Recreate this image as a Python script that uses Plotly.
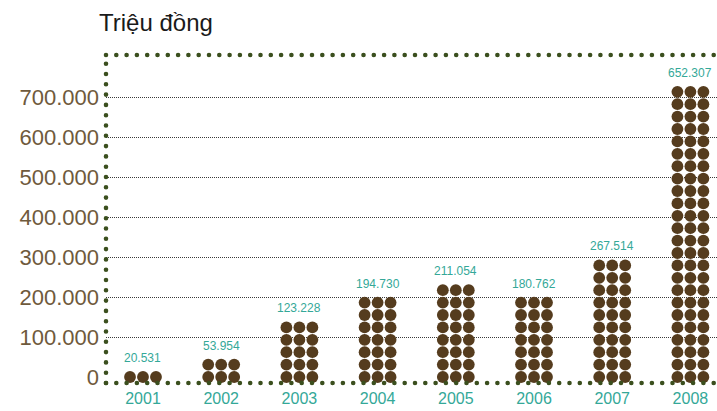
import plotly.graph_objects as go

years = ["2001", "2002", "2003", "2004", "2005", "2006", "2007", "2008"]
values = [20531, 53954, 123228, 194730, 211054, 180762, 267514, 652307]
value_labels = ["20.531", "53.954", "123.228", "194.730", "211.054", "180.762", "267.514", "652.307"]
dot_rows = [1, 2, 5, 7, 8, 7, 10, 24]
y_ticks = [0, 100000, 200000, 300000, 400000, 500000, 600000, 700000]
y_tick_labels = ["0", "100.000", "200.000", "300.000", "400.000", "500.000", "600.000", "700.000"]
unit_title = "Triệu đồng"

# style
FONT = "Liberation Sans, Arial, sans-serif"
DOT_COLOR = "#553c1e"
BORDER_COLOR = "#3b4f1e"
TEAL = "#34a898"
TICK_BROWN = "#6f5a3c"
ROW_STEP = 31000          # data units between dot rows
COL_OFFSETS = [-0.166, 0.0, 0.166]

fig = go.Figure()

xs, ys = [], []
for i, n in enumerate(dot_rows):
    for r in range(n):
        for off in COL_OFFSETS:
            xs.append(i + off)
            ys.append(r * ROW_STEP)

fig.add_trace(go.Scatter(
    x=xs, y=ys, mode="markers",
    marker=dict(size=11.8, color=DOT_COLOR, line=dict(width=0)),
    hoverinfo="skip", showlegend=False,
))

for i, lab in enumerate(value_labels):
    fig.add_annotation(
        x=i, y=(dot_rows[i] - 1) * ROW_STEP, xref="x", yref="y",
        text=lab, showarrow=False, yanchor="middle", yshift=19,
        font=dict(family=FONT, size=12, color=TEAL),
    )

# dotted border: top, left, bottom (round caps via CSS below)
border = dict(color=BORDER_COLOR, width=4.6, dash="0px,10.3px")
fig.add_shape(type="line", xref="paper", yref="paper", x0=0, x1=1, y0=1, y1=1, line=border)
fig.add_shape(type="line", xref="paper", yref="paper", x0=0, x1=0, y0=0, y1=1, line=border)
fig.add_shape(type="line", xref="paper", yref="paper", x0=0, x1=0.995, y0=0, y1=0, line=border)

fig.add_annotation(
    text=unit_title, xref="paper", yref="paper", x=-9/611, y=1 + 33/328,
    xanchor="left", yanchor="middle", showarrow=False,
    font=dict(family=FONT, size=24, color="#1a1a1a"),
)

fig.update_layout(
    width=717, height=411,
    margin=dict(l=106, r=0, t=55, b=28),
    paper_bgcolor="white", plot_bgcolor="white",
    showlegend=False,
    xaxis=dict(
        range=[-0.473, 7.34], tickmode="array", tickvals=list(range(len(years))),
        ticktext=years, showgrid=False, zeroline=False, showline=False,
        tickfont=dict(family=FONT, size=16, color=TEAL), ticks="", ticklabelstandoff=4,
    ),
    yaxis=dict(
        range=[-15000, 805000], tickmode="array", tickvals=y_ticks, ticktext=y_tick_labels,
        showgrid=False, zeroline=False, showline=False,
        tickfont=dict(family=FONT, size=22, color=TICK_BROWN), ticks="", ticklabelstandoff=6,
        minor=dict(tickmode="array", tickvals=y_ticks[1:], showgrid=True,
                   gridcolor="#3a3a3a", gridwidth=1, griddash="1px,1px", ticks=""),
    ),
)

fig.write_html("out.html", config={"displayModeBar": False})

with open("out.html", "r", encoding="utf-8") as f:
    html = f.read()
css = ("<style>html,body{margin:0;padding:0;overflow:hidden;}"
       ".shapelayer path{stroke-linecap:round;}</style>")
html = html.replace("<head>", "<head>" + css, 1)
with open("out.html", "w", encoding="utf-8") as f:
    f.write(html)
